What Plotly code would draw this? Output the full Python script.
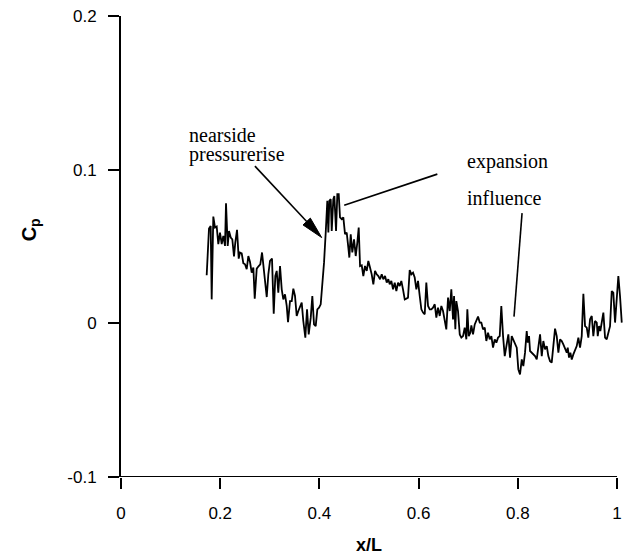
import math
import plotly.graph_objects as go

# Surface pressure coefficient along the body
x_over_L = [
    0.1727, 0.1774, 0.1808, 0.1828, 0.1861, 0.1895, 0.1929, 0.1962, 0.1996, 0.2030,
    0.2063, 0.2097, 0.2117, 0.2151, 0.2177, 0.2212, 0.2244, 0.2278, 0.2304, 0.2339,
    0.2373, 0.2399, 0.2433, 0.2466, 0.2500, 0.2534, 0.2567, 0.2601, 0.2635, 0.2668,
    0.2696, 0.2736, 0.2776, 0.2808, 0.2843, 0.2869, 0.2903, 0.2938, 0.2970, 0.3004,
    0.3044, 0.3079, 0.3111, 0.3139, 0.3171, 0.3206, 0.3240, 0.3272, 0.3306, 0.3341,
    0.3367, 0.3407, 0.3442, 0.3474, 0.3508, 0.3542, 0.3575, 0.3609, 0.3643, 0.3675,
    0.3716, 0.3750, 0.3784, 0.3825, 0.3857, 0.3891, 0.3925, 0.3958, 0.3992, 0.4026,
    0.4059, 0.4093, 0.4127, 0.4159, 0.4180, 0.4200, 0.4228, 0.4248, 0.4280, 0.4301,
    0.4335, 0.4361, 0.4389, 0.4415, 0.4450, 0.4482, 0.4516, 0.4550, 0.4583, 0.4603,
    0.4631, 0.4663, 0.4698, 0.4732, 0.4764, 0.4792, 0.4819, 0.4853, 0.4885, 0.4919,
    0.4954, 0.4986, 0.5020, 0.5054, 0.5087, 0.5121, 0.5155, 0.5188, 0.5222, 0.5256,
    0.5288, 0.5323, 0.5357, 0.5389, 0.5417, 0.5450, 0.5484, 0.5518, 0.5551, 0.5585,
    0.5619, 0.5651, 0.5685, 0.5720, 0.5752, 0.5786, 0.5820, 0.5853, 0.5887, 0.5921,
    0.5954, 0.5988, 0.6022, 0.6055, 0.6089, 0.6123, 0.6155, 0.6190, 0.6224, 0.6256,
    0.6290, 0.6325, 0.6357, 0.6391, 0.6425, 0.6458, 0.6492, 0.6526, 0.6558, 0.6593,
    0.6627, 0.6659, 0.6694, 0.6714, 0.6740, 0.6760, 0.6794, 0.6829, 0.6861, 0.6895,
    0.6929, 0.6962, 0.6982, 0.7010, 0.7042, 0.7063, 0.7097, 0.7131, 0.7163, 0.7198,
    0.7232, 0.7264, 0.7298, 0.7333, 0.7365, 0.7399, 0.7433, 0.7466, 0.7500, 0.7534,
    0.7567, 0.7601, 0.7635, 0.7667, 0.7702, 0.7736, 0.7809, 0.7843, 0.7877, 0.7909,
    0.7944, 0.7978, 0.8010, 0.8044, 0.8079, 0.8111, 0.8145, 0.8179, 0.8200, 0.8226,
    0.8246, 0.8280, 0.8313, 0.8347, 0.8381, 0.8413, 0.8448, 0.8482, 0.8514, 0.8548,
    0.8583, 0.8615, 0.8649, 0.8683, 0.8716, 0.8750, 0.8784, 0.8817, 0.8851, 0.8885,
    0.8917, 0.8952, 0.8986, 0.9006, 0.9032, 0.9059, 0.9087, 0.9119, 0.9153, 0.9187,
    0.9220, 0.9254, 0.9288, 0.9321, 0.9355, 0.9389, 0.9421, 0.9456, 0.9490, 0.9522,
    0.9556, 0.9591, 0.9611, 0.9637, 0.9663, 0.9691, 0.9724, 0.9758, 0.9792, 0.9825,
    0.9859, 0.9893, 0.9925, 0.9960, 0.9994, 1.0026, 1.0060, 1.0095,
]
cp = [
    0.0313, 0.0617, 0.0634, 0.0156, 0.0695, 0.0623, 0.0630, 0.0515, 0.0591, 0.0515,
    0.0569, 0.0504, 0.0782, 0.0504, 0.0601, 0.0558, 0.0547, 0.0435, 0.0526, 0.0608,
    0.0421, 0.0461, 0.0456, 0.0391, 0.0384, 0.0352, 0.0438, 0.0399, 0.0330, 0.0363,
    0.0161, 0.0356, 0.0373, 0.0384, 0.0461, 0.0373, 0.0298, 0.0171, 0.0319, 0.0406,
    0.0421, 0.0063, 0.0308, 0.0341, 0.0200, 0.0373, 0.0221, 0.0156, 0.0189, 0.0113,
    0.0008, 0.0145, 0.0145, 0.0226, 0.0178, 0.0048, 0.0080, 0.0113, 0.0135, 0.0015,
    -0.0093, 0.0091, -0.0072, 0.0037, 0.0178, -0.0007, -0.0018, 0.0091, 0.0102, 0.0124,
    0.0243, 0.0395, 0.0591, 0.0797, 0.0591, 0.0797, 0.0808, 0.0601, 0.0808, 0.0829,
    0.0601, 0.0840, 0.0840, 0.0689, 0.0678, 0.0689, 0.0580, 0.0591, 0.0493, 0.0428,
    0.0580, 0.0461, 0.0547, 0.0438, 0.0526, 0.0623, 0.0373, 0.0378, 0.0308, 0.0373,
    0.0341, 0.0406, 0.0363, 0.0319, 0.0254, 0.0341, 0.0319, 0.0308, 0.0287, 0.0319,
    0.0287, 0.0308, 0.0265, 0.0287, 0.0254, 0.0276, 0.0221, 0.0265, 0.0210, 0.0265,
    0.0243, 0.0276, 0.0221, 0.0156, 0.0161, 0.0167, 0.0347, 0.0319, 0.0330, 0.0298,
    0.0221, 0.0276, 0.0178, 0.0091, 0.0070, 0.0059, 0.0265, 0.0113, 0.0091, 0.0091,
    0.0102, 0.0124, 0.0037, 0.0102, 0.0048, 0.0113, 0.0080, 0.0005, -0.0039, 0.0167,
    0.0080, 0.0221, 0.0026, 0.0178, -0.0039, 0.0145, 0.0080, -0.0072, -0.0093, -0.0083,
    -0.0028, -0.0104, 0.0091, -0.0083, -0.0061, -0.0013, -0.0072, -0.0007, 0.0015, 0.0044,
    0.0005, 0.0005, -0.0039, -0.0028, -0.0115, -0.0061, -0.0104, -0.0083, -0.0158, -0.0104,
    -0.0126, -0.0093, -0.0083, 0.0113, -0.0083, -0.0213, -0.0072, -0.0223, -0.0083, -0.0104,
    -0.0126, -0.0158, -0.0300, -0.0332, -0.0235, -0.0278, -0.0191, -0.0050, -0.0126, -0.0083,
    -0.0180, -0.0191, -0.0202, -0.0213, -0.0235, -0.0148, -0.0072, -0.0213, -0.0115, -0.0169,
    -0.0148, -0.0213, -0.0246, -0.0256, -0.0148, -0.0035, -0.0083, -0.0191, -0.0104, -0.0115,
    -0.0137, -0.0169, -0.0191, -0.0158, -0.0223, -0.0191, -0.0235, -0.0202, -0.0180, -0.0148,
    -0.0093, -0.0158, -0.0083, 0.0193, -0.0018, -0.0028, -0.0093, 0.0026, 0.0048, -0.0083,
    0.0015, 0.0005, -0.0083, -0.0018, -0.0050, 0.0015, 0.0070, -0.0093, -0.0104, -0.0061,
    -0.0018, 0.0210, 0.0200, 0.0005, 0.0145, 0.0308, 0.0178, 0.0005,
]

x_ticks = [0, 0.2, 0.4, 0.6, 0.8, 1]
x_tick_text = ["0", "0.2", "0.4", "0.6", "0.8", "1"]
y_ticks = [-0.1, 0, 0.1, 0.2]
y_tick_text = ["-0.1", "0", "0.1", "0.2"]

# Callout geometry (x/L, Cp)
nearside_tail = (0.270, 0.1023)
nearside_tip = (0.4046, 0.0558)
expansion_line = [(0.450, 0.0769), (0.6377, 0.0971)]
influence_line = [(0.8085, 0.0717), (0.7923, 0.0044)]

W, H = 630, 555
ML, MR, MT, MB = 121, 7, 16, 78
X_RANGE = [0, 1.012]
Y_RANGE = [-0.1, 0.2]
PX_X = (W - ML - MR) / (X_RANGE[1] - X_RANGE[0])
PX_Y = (H - MT - MB) / (Y_RANGE[1] - Y_RANGE[0])

AXIS_FONT = dict(family="Arial, 'Liberation Sans', sans-serif", size=17, color="black")
NOTE_FONT = dict(family="'Times New Roman', 'Liberation Serif', serif", size=20, color="black")

fig = go.Figure()
fig.add_trace(go.Scatter(
    x=x_over_L, y=cp, mode="lines",
    line=dict(color="black", width=1.8),
    showlegend=False, hoverinfo="skip",
))

shapes = []
# bottom axis line only spans 0..1
shapes.append(dict(type="line", xref="x", yref="y", x0=0, x1=1, y0=Y_RANGE[0], y1=Y_RANGE[0],
                   line=dict(color="black", width=2)))

# arrow pointing at the nearside pressure rise
tx, ty = nearside_tail
hx, hy = nearside_tip
dxp, dyp = (hx - tx) * PX_X, (hy - ty) * PX_Y
L = math.hypot(dxp, dyp)
ux, uy = dxp / L, dyp / L
head_len, head_half = 22, 5
bx, by = -head_len * ux, -head_len * uy
nx, ny = -uy, ux
c1 = (hx + (bx + head_half * nx) / PX_X, hy + (by + head_half * ny) / PX_Y)
c2 = (hx + (bx - head_half * nx) / PX_X, hy + (by - head_half * ny) / PX_Y)
base = (hx + bx / PX_X, hy + by / PX_Y)
shapes.append(dict(type="line", xref="x", yref="y", x0=tx, y0=ty, x1=base[0], y1=base[1],
                   line=dict(color="black", width=1.6)))
shapes.append(dict(type="path", xref="x", yref="y",
                   path=f"M {hx},{hy} L {c1[0]},{c1[1]} L {c2[0]},{c2[1]} Z",
                   fillcolor="black", line=dict(color="black", width=1)))
for (a, b) in (expansion_line, influence_line):
    shapes.append(dict(type="line", xref="x", yref="y", x0=a[0], y0=a[1], x1=b[0], y1=b[1],
                       line=dict(color="black", width=1.6)))

annotations = [
    dict(text="nearside", x=0.1331, y=0.1225, xref="x", yref="y",
         xanchor="left", yanchor="middle", showarrow=False, font=NOTE_FONT),
    dict(text="pressurerise", x=0.1331, y=0.1097, xref="x", yref="y",
         xanchor="left", yanchor="middle", showarrow=False, font=NOTE_FONT),
    dict(text="expansion", x=0.6935, y=0.1053, xref="x", yref="y",
         xanchor="left", yanchor="middle", showarrow=False, font=NOTE_FONT),
    dict(text="influence", x=0.6935, y=0.0814, xref="x", yref="y",
         xanchor="left", yanchor="middle", showarrow=False, font=NOTE_FONT),
    dict(text="<b>x/L</b>", x=0.5, y=-0.1475, xref="x", yref="paper",
         xanchor="center", yanchor="middle", showarrow=False,
         font=dict(family=AXIS_FONT["family"], size=18, color="black")),
    dict(text="<b>C<sub>p</sub></b>", x=-0.181, y=0.0606, xref="paper", yref="y",
         xanchor="center", yanchor="middle", showarrow=False, textangle=-90,
         font=dict(family=AXIS_FONT["family"], size=20, color="black")),
]

fig.update_layout(
    width=W, height=H,
    margin=dict(l=ML, r=MR, t=MT, b=MB, pad=0),
    paper_bgcolor="white", plot_bgcolor="white",
    shapes=shapes, annotations=annotations,
    xaxis=dict(range=X_RANGE, autorange=False, tickvals=x_ticks, ticktext=x_tick_text,
               ticks="outside", ticklen=11, tickwidth=2, tickcolor="black",
               showline=False, showgrid=False, zeroline=False,
               tickfont=AXIS_FONT, ticklabelstandoff=10),
    yaxis=dict(range=Y_RANGE, autorange=False, tickvals=y_ticks, ticktext=y_tick_text,
               ticks="outside", ticklen=11, tickwidth=2, tickcolor="black",
               showline=True, linecolor="black", linewidth=2,
               showgrid=False, zeroline=False,
               tickfont=AXIS_FONT, ticklabelstandoff=8),
)

fig.write_html("out.html")
